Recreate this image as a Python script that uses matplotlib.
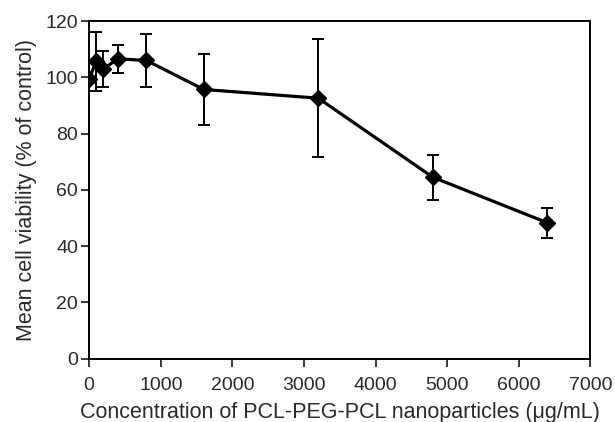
import matplotlib
matplotlib.use("Agg")
import matplotlib.pyplot as plt

plt.rcParams['font.family'] = ['Liberation Sans', 'DejaVu Sans']

# concentration (ug/mL) vs. viability (% of control)
conc = [0, 100, 200, 400, 800, 1600, 3200, 4800, 6400]
viability = [99.5, 105.8, 103.0, 106.6, 106.0, 95.7, 92.6, 64.5, 48.3]
err = [0.0, 10.5, 6.5, 5.0, 9.5, 12.5, 21.0, 8.0, 5.3]

x_ticks = [0, 1000, 2000, 3000, 4000, 5000, 6000, 7000]
y_ticks = [0, 20, 40, 60, 80, 100, 120]

fig = plt.figure(figsize=(6.15, 4.22), dpi=100)
ax = fig.add_axes([0.145, 0.150, 0.815, 0.800])

ax.errorbar(conc, viability, yerr=err, color='black', lw=2.3,
            marker='D', ms=8.5, elinewidth=1.4, capsize=4.3, capthick=1.4)

ax.set_xlim(0, 7000)
ax.set_ylim(0, 120)
ax.set_xticks(x_ticks)
ax.set_yticks(y_ticks)
ax.tick_params(direction='out', length=6, width=1.3, labelsize=14,
               colors='#2a2a2a')
ax.tick_params(axis='x', pad=7)
ax.tick_params(axis='y', pad=2)
for s in ax.spines.values():
    s.set_linewidth(1.4)

ax.set_xlabel('Concentration of PCL-PEG-PCL nanoparticles (μg/mL)',
              fontsize=15.5, color='#2a2a2a', labelpad=6)
ax.set_ylabel('Mean cell viability (% of control)',
              fontsize=15.5, color='#2a2a2a', labelpad=6)

fig.savefig('out.png', dpi=100)
